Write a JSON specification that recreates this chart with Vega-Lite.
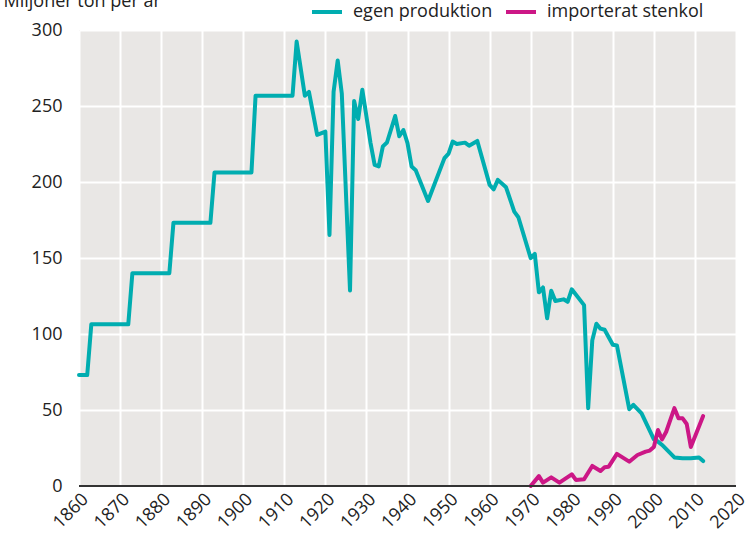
{
  "$schema": "https://vega.github.io/schema/vega-lite/v6.json",
  "width": 657,
  "height": 456,
  "autosize": "none",
  "padding": {"left": 79, "top": 30, "right": 10, "bottom": 49},
  "background": "white",
  "config": {
    "view": {"fill": "#E9E7E5", "stroke": null},
    "font": "Open Sans"
  },
  "data": {"values": [
    {"year": 1860, "serie": "egen produktion", "value": 73},
    {"year": 1862, "serie": "egen produktion", "value": 73},
    {"year": 1863, "serie": "egen produktion", "value": 106.4},
    {"year": 1872, "serie": "egen produktion", "value": 106.4},
    {"year": 1873, "serie": "egen produktion", "value": 140},
    {"year": 1882, "serie": "egen produktion", "value": 140},
    {"year": 1883, "serie": "egen produktion", "value": 173.2},
    {"year": 1892, "serie": "egen produktion", "value": 173.2},
    {"year": 1893, "serie": "egen produktion", "value": 206.3},
    {"year": 1902, "serie": "egen produktion", "value": 206.3},
    {"year": 1903, "serie": "egen produktion", "value": 256.8},
    {"year": 1912, "serie": "egen produktion", "value": 256.8},
    {"year": 1913, "serie": "egen produktion", "value": 292.4},
    {"year": 1915, "serie": "egen produktion", "value": 256.8},
    {"year": 1916, "serie": "egen produktion", "value": 259.3},
    {"year": 1918, "serie": "egen produktion", "value": 231},
    {"year": 1920, "serie": "egen produktion", "value": 233.1},
    {"year": 1921, "serie": "egen produktion", "value": 165.2},
    {"year": 1922, "serie": "egen produktion", "value": 259.3},
    {"year": 1923, "serie": "egen produktion", "value": 280},
    {"year": 1924, "serie": "egen produktion", "value": 258.3},
    {"year": 1926, "serie": "egen produktion", "value": 128.6},
    {"year": 1927, "serie": "egen produktion", "value": 253.3},
    {"year": 1928, "serie": "egen produktion", "value": 241.4},
    {"year": 1929, "serie": "egen produktion", "value": 260.7},
    {"year": 1931, "serie": "egen produktion", "value": 225.6},
    {"year": 1932, "serie": "egen produktion", "value": 211.3},
    {"year": 1933, "serie": "egen produktion", "value": 210.3},
    {"year": 1934, "serie": "egen produktion", "value": 223.4},
    {"year": 1935, "serie": "egen produktion", "value": 226},
    {"year": 1937, "serie": "egen produktion", "value": 243.4},
    {"year": 1938, "serie": "egen produktion", "value": 230.1},
    {"year": 1939, "serie": "egen produktion", "value": 234.2},
    {"year": 1940, "serie": "egen produktion", "value": 225.6},
    {"year": 1941, "serie": "egen produktion", "value": 210.2},
    {"year": 1942, "serie": "egen produktion", "value": 207.8},
    {"year": 1945, "serie": "egen produktion", "value": 187.5},
    {"year": 1949, "serie": "egen produktion", "value": 215.7},
    {"year": 1950, "serie": "egen produktion", "value": 218.7},
    {"year": 1951, "serie": "egen produktion", "value": 226.6},
    {"year": 1952, "serie": "egen produktion", "value": 225},
    {"year": 1954, "serie": "egen produktion", "value": 225.9},
    {"year": 1955, "serie": "egen produktion", "value": 223.9},
    {"year": 1957, "serie": "egen produktion", "value": 227},
    {"year": 1960, "serie": "egen produktion", "value": 198.1},
    {"year": 1961, "serie": "egen produktion", "value": 195.2},
    {"year": 1962, "serie": "egen produktion", "value": 201.4},
    {"year": 1964, "serie": "egen produktion", "value": 196.5},
    {"year": 1966, "serie": "egen produktion", "value": 180.5},
    {"year": 1967, "serie": "egen produktion", "value": 176.8},
    {"year": 1970, "serie": "egen produktion", "value": 149.9},
    {"year": 1971, "serie": "egen produktion", "value": 152.7},
    {"year": 1972, "serie": "egen produktion", "value": 127.4},
    {"year": 1973, "serie": "egen produktion", "value": 130.6},
    {"year": 1974, "serie": "egen produktion", "value": 110.3},
    {"year": 1975, "serie": "egen produktion", "value": 128.5},
    {"year": 1976, "serie": "egen produktion", "value": 121.7},
    {"year": 1978, "serie": "egen produktion", "value": 122.8},
    {"year": 1979, "serie": "egen produktion", "value": 121.2},
    {"year": 1980, "serie": "egen produktion", "value": 129.4},
    {"year": 1983, "serie": "egen produktion", "value": 119},
    {"year": 1984, "serie": "egen produktion", "value": 51.2},
    {"year": 1985, "serie": "egen produktion", "value": 95.8},
    {"year": 1986, "serie": "egen produktion", "value": 106.8},
    {"year": 1987, "serie": "egen produktion", "value": 103.5},
    {"year": 1988, "serie": "egen produktion", "value": 102.8},
    {"year": 1990, "serie": "egen produktion", "value": 92.9},
    {"year": 1991, "serie": "egen produktion", "value": 92.5},
    {"year": 1994, "serie": "egen produktion", "value": 50.5},
    {"year": 1995, "serie": "egen produktion", "value": 53.4},
    {"year": 1997, "serie": "egen produktion", "value": 47.8},
    {"year": 2000, "serie": "egen produktion", "value": 30.7},
    {"year": 2001, "serie": "egen produktion", "value": 29.2},
    {"year": 2002, "serie": "egen produktion", "value": 27},
    {"year": 2005, "serie": "egen produktion", "value": 18.8},
    {"year": 2007, "serie": "egen produktion", "value": 18.2},
    {"year": 2009, "serie": "egen produktion", "value": 18.3},
    {"year": 2011, "serie": "egen produktion", "value": 18.8},
    {"year": 2012, "serie": "egen produktion", "value": 16.4},
    {"year": 1970, "serie": "importerat stenkol", "value": 0},
    {"year": 1972, "serie": "importerat stenkol", "value": 6.5},
    {"year": 1973, "serie": "importerat stenkol", "value": 2.2},
    {"year": 1975, "serie": "importerat stenkol", "value": 5.7},
    {"year": 1977, "serie": "importerat stenkol", "value": 2.2},
    {"year": 1980, "serie": "importerat stenkol", "value": 7.7},
    {"year": 1981, "serie": "importerat stenkol", "value": 4},
    {"year": 1983, "serie": "importerat stenkol", "value": 4.4},
    {"year": 1985, "serie": "importerat stenkol", "value": 13.2},
    {"year": 1987, "serie": "importerat stenkol", "value": 9.9},
    {"year": 1988, "serie": "importerat stenkol", "value": 12.3},
    {"year": 1989, "serie": "importerat stenkol", "value": 12.7},
    {"year": 1991, "serie": "importerat stenkol", "value": 21.1},
    {"year": 1994, "serie": "importerat stenkol", "value": 16},
    {"year": 1996, "serie": "importerat stenkol", "value": 20.4},
    {"year": 1998, "serie": "importerat stenkol", "value": 22.6},
    {"year": 1999, "serie": "importerat stenkol", "value": 23.3},
    {"year": 2000, "serie": "importerat stenkol", "value": 25.7},
    {"year": 2001, "serie": "importerat stenkol", "value": 36.8},
    {"year": 2002, "serie": "importerat stenkol", "value": 30.7},
    {"year": 2003, "serie": "importerat stenkol", "value": 35.7},
    {"year": 2005, "serie": "importerat stenkol", "value": 51.2},
    {"year": 2006, "serie": "importerat stenkol", "value": 44.5},
    {"year": 2007, "serie": "importerat stenkol", "value": 44.5},
    {"year": 2008, "serie": "importerat stenkol", "value": 40.8},
    {"year": 2009, "serie": "importerat stenkol", "value": 25.7},
    {"year": 2012, "serie": "importerat stenkol", "value": 46}
  ]},
  "layer": [
    {
      "mark": {"type": "line", "strokeWidth": 4, "strokeJoin": "round", "strokeCap": "round"},
      "encoding": {
        "x": {"field": "year", "type": "quantitative",
          "scale": {"domain": [1860, 2020], "nice": false, "zero": false},
          "axis": {"values": [1860, 1870, 1880, 1890, 1900, 1910, 1920, 1930, 1940, 1950, 1960, 1970, 1980, 1990, 2000, 2010, 2020],
            "format": "d", "title": null, "labelAngle": -45, "labelFontSize": 18, "labelColor": "#222", "labelPadding": 4,
            "grid": true, "gridColor": "white", "gridWidth": 2, "ticks": false, "domain": false, "labelFlush": false, "labelOverlap": false}},
        "y": {"field": "value", "type": "quantitative",
          "scale": {"domain": [0, 300], "nice": false},
          "axis": {"values": [0, 50, 100, 150, 200, 250, 300], "title": "Miljoner ton per år",
            "titleAngle": 0, "titleX": -76, "titleY": -24, "titleAlign": "left", "titleBaseline": "alphabetic",
            "titleFontSize": 18, "titleFontWeight": "normal", "titleFont": "Open Sans", "titleColor": "#222",
            "labelFontSize": 18, "labelColor": "#222", "labelPadding": 17,
            "grid": true, "gridColor": "white", "gridWidth": 2, "ticks": false, "domain": false}},
        "color": {"field": "serie", "type": "nominal",
          "scale": {"domain": ["egen produktion", "importerat stenkol"], "range": ["#00ADB0", "#CC1786"]},
          "legend": {"title": null, "orient": "none", "legendX": 231, "legendY": -35, "direction": "horizontal", "gridAlign": "none",
            "symbolType": "stroke", "symbolStrokeWidth": 4, "symbolSize": 900, "labelFontSize": 18, "labelColor": "#222",
            "labelFont": "Open Sans", "columnPadding": 5, "labelOffset": 9}}
      }
    },
    {
      "mark": {"type": "rule", "color": "#333", "strokeWidth": 2},
      "encoding": {"y": {"datum": 0}}
    }
  ]
}
